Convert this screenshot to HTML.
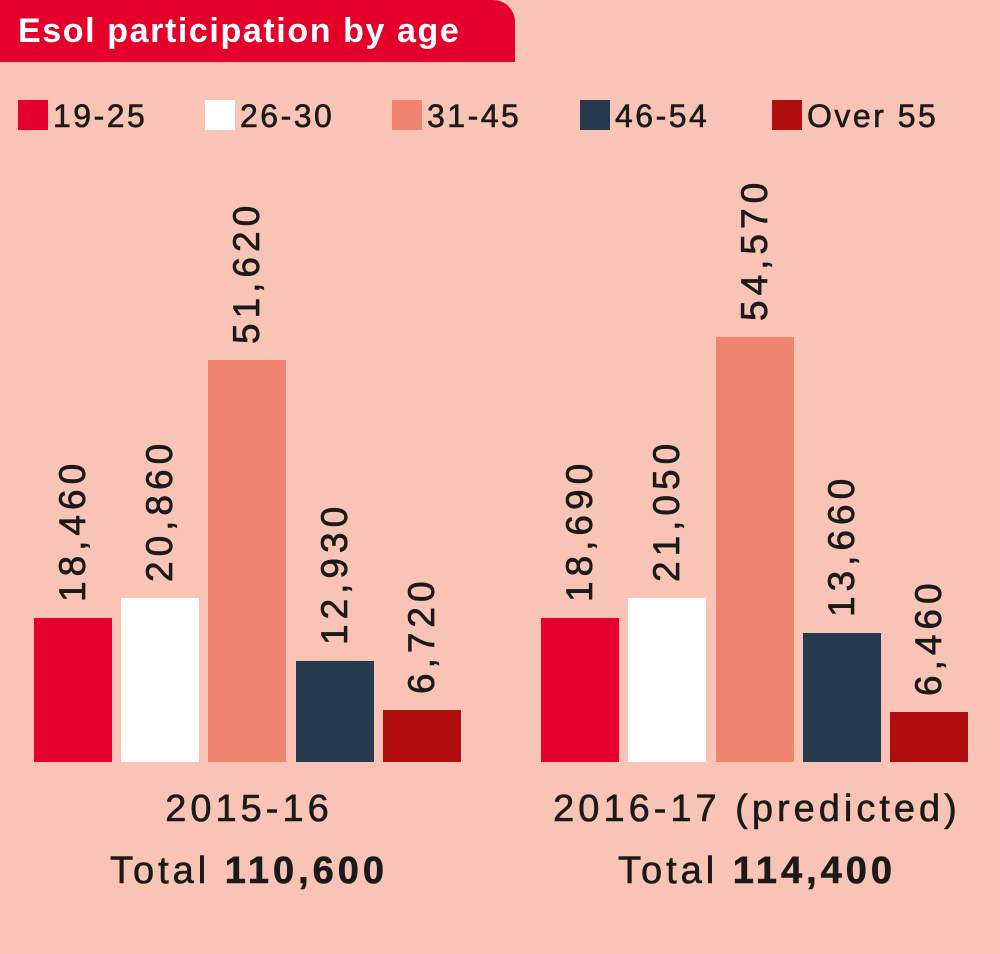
<!DOCTYPE html>
<html><head><meta charset="utf-8"><style>
body{margin:0;}
#c{position:relative;width:1000px;height:954px;background:#f9c4b6;font-family:"Liberation Sans",sans-serif;overflow:hidden;color:#1a1a1a;}
.t{position:absolute;left:0;top:0;width:515px;height:62px;background:#e4002b;border-top-right-radius:22px;color:#fff;font-weight:bold;font-size:34px;line-height:62px;padding-left:18px;box-sizing:border-box;letter-spacing:1.6px;}
.lg{position:absolute;top:100px;height:32px;font-size:32px;line-height:32px;letter-spacing:2.5px;-webkit-text-stroke:0.6px #1a1a1a;}
.lg i{display:inline-block;width:30px;height:30px;vertical-align:top;margin-right:5px;}
.b{position:absolute;width:78px;}
.v{position:absolute;font-size:37px;transform-origin:0 0;transform:rotate(-90deg);white-space:nowrap;letter-spacing:5px;line-height:40px;-webkit-text-stroke:0.7px #1a1a1a;}
.g{position:absolute;font-size:38px;text-align:center;width:480px;letter-spacing:4px;-webkit-text-stroke:0.6px #1a1a1a;}
</style></head><body><div id="c">
<div class="t">Esol participation by age</div>
<div class="lg" style="left:18px"><i style="background:#e4002b"></i>19-25</div>
<div class="lg" style="left:205px"><i style="background:#fff"></i>26-30</div>
<div class="lg" style="left:392px"><i style="background:#f08470"></i>31-45</div>
<div class="lg" style="left:580px"><i style="background:#263a4f"></i>46-54</div>
<div class="lg" style="left:772px"><i style="background:#b00e0e"></i>Over 55</div>

<div class="b" style="left:34px;top:618px;height:144px;background:#e4002b"></div>
<div class="b" style="left:121px;top:598px;height:164px;background:#fff"></div>
<div class="b" style="left:208px;top:360px;height:402px;background:#f08470"></div>
<div class="b" style="left:296px;top:661px;height:101px;background:#263a4f"></div>
<div class="b" style="left:383px;top:710px;height:52px;background:#b00e0e"></div>
<div class="b" style="left:541px;top:618px;height:144px;background:#e4002b"></div>
<div class="b" style="left:628px;top:598px;height:164px;background:#fff"></div>
<div class="b" style="left:716px;top:337px;height:425px;background:#f08470"></div>
<div class="b" style="left:803px;top:633px;height:129px;background:#263a4f"></div>
<div class="b" style="left:890px;top:712px;height:50px;background:#b00e0e"></div>

<div class="v" style="left:53px;top:602px">18,460</div>
<div class="v" style="left:140px;top:582px">20,860</div>
<div class="v" style="left:227px;top:344px">51,620</div>
<div class="v" style="left:315px;top:645px">12,930</div>
<div class="v" style="left:402px;top:694px">6,720</div>
<div class="v" style="left:560px;top:602px">18,690</div>
<div class="v" style="left:647px;top:582px">21,050</div>
<div class="v" style="left:735px;top:321px">54,570</div>
<div class="v" style="left:822px;top:617px">13,660</div>
<div class="v" style="left:909px;top:696px">6,460</div>

<div class="g" style="left:9px;top:788px">2015-16</div>
<div class="g" style="left:9px;top:850px">Total <b>110,600</b></div>
<div class="g" style="left:517px;top:788px">2016-17 (predicted)</div>
<div class="g" style="left:517px;top:850px">Total <b>114,400</b></div>
</div></body></html>
